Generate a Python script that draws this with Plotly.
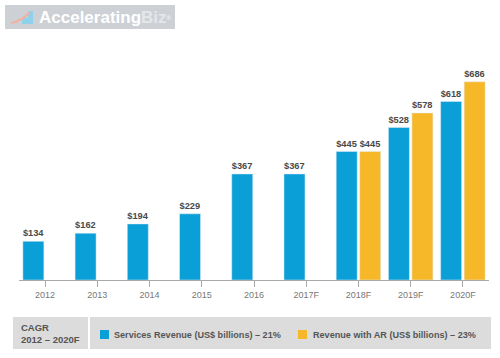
import plotly.graph_objects as go

years = ["2012", "2013", "2014", "2015", "2016", "2017F", "2018F", "2019F", "2020F"]
services = [134, 162, 194, 229, 367, 367, 445, 528, 618]
with_ar = [None, None, None, None, None, None, 445, 578, 686]
legend_services = "Services Revenue (US$ billions) – 21%"
legend_ar = "Revenue with AR (US$ billions) – 23%"
cagr_label = "CAGR<br>2012 – 2020F"

BLUE = "#0a9fd6"
YELLOW = "#f6b829"
W, H = 500, 358
L, R, T, B = 19, 11, 70, 78
PW, PH = W - L - R, H - T - B

def px(x):
    return (x - L) / PW

def py(y):
    return (H - B - y) / PH

FONT = "Liberation Sans, Arial, sans-serif"

fig = go.Figure()
fig.add_trace(go.Bar(x=years, y=services, marker_color=BLUE, name=legend_services,
                     texttemplate="<b>$%{y}</b>", textposition="outside", cliponaxis=False,
                     textfont=dict(size=10, color="#4a4a4a", family=FONT)))
fig.add_trace(go.Bar(x=years, y=with_ar, marker_color=YELLOW, name=legend_ar,
                     texttemplate="<b>$%{y}</b>", textposition="outside", cliponaxis=False,
                     textfont=dict(size=10, color="#4a4a4a", family=FONT)))

shapes = []
annotations = []
# logo
shapes.append(dict(type="rect", xref="paper", yref="paper", x0=px(5), x1=px(175), y0=py(29), y1=py(5),
                   fillcolor="#cdd1d6", line=dict(width=0), layer="below"))
# little stair icon
shapes.append(dict(type="path", xref="paper", yref="paper",
                   path=f"M {px(13)},{py(24)} L {px(22)},{py(24)} L {px(22)},{py(18)} L {px(28)},{py(18)} L {px(28)},{py(11)} L {px(33)},{py(11)} L {px(33)},{py(24)} Z",
                   fillcolor="#8fd0ea", line=dict(width=0)))
shapes.append(dict(type="path", xref="paper", yref="paper",
                   path=f"M {px(11)},{py(23)} Q {px(22)},{py(21)} {px(30)},{py(12)}",
                   line=dict(color="#f3b0a0", width=2)))
annotations.append(dict(xref="paper", yref="paper", x=px(37), y=py(17), xanchor="left", yanchor="middle",
                        text="<b>Accelerating</b><b><span style='color:#e4e7ea'>Biz</span></b><span style='font-size:8px'><sup>®</sup></span>",
                        showarrow=False, font=dict(size=17, color="white", family=FONT)))
# bottom legend boxes
shapes.append(dict(type="rect", xref="paper", yref="paper", x0=px(13), x1=px(88), y0=py(349), y1=py(317),
                   fillcolor="#dcdcdc", line=dict(width=0)))
shapes.append(dict(type="rect", xref="paper", yref="paper", x0=px(90), x1=px(491), y0=py(349), y1=py(317),
                   fillcolor="#dcdcdc", line=dict(width=0)))
shapes.append(dict(type="rect", xref="paper", yref="paper", x0=px(100), x1=px(109), y0=py(339), y1=py(330),
                   fillcolor=BLUE, line=dict(width=0)))
shapes.append(dict(type="rect", xref="paper", yref="paper", x0=px(298), x1=px(307), y0=py(339), y1=py(330),
                   fillcolor=YELLOW, line=dict(width=0)))
annotations.append(dict(xref="paper", yref="paper", x=px(19), y=py(333), xanchor="left", yanchor="middle",
                        text=f"<b>{cagr_label}</b>", align="left", showarrow=False,
                        font=dict(size=9.5, color="#555", family=FONT)))
annotations.append(dict(xref="paper", yref="paper", x=px(112), y=py(334.5), xanchor="left", yanchor="middle",
                        text=f"<b>{legend_services}</b>", showarrow=False,
                        font=dict(size=9.1, color="#555", family=FONT)))
annotations.append(dict(xref="paper", yref="paper", x=px(311), y=py(334.5), xanchor="left", yanchor="middle",
                        text=f"<b>{legend_ar}</b>", showarrow=False,
                        font=dict(size=9.1, color="#555", family=FONT)))

fig.update_layout(
    width=W, height=H, margin=dict(l=L, r=R, t=T, b=B, pad=0),
    paper_bgcolor="white", plot_bgcolor="white",
    barmode="group", bargap=0.10, bargroupgap=0.106,
    showlegend=False, shapes=shapes, annotations=annotations,
    font=dict(family=FONT),
)
fig.update_xaxes(type="category", range=[-0.5, 8.5], showline=True, linecolor="#aaaaaa", linewidth=1,
                 ticks="outside", ticklen=6, tickcolor="#aaaaaa", showgrid=False,
                 tickfont=dict(size=9, color="#777", family=FONT), fixedrange=True)
fig.update_yaxes(range=[0, PH / 0.289], visible=False, showgrid=False, zeroline=False)

fig.write_html("out.html", config={"displayModeBar": False},
               post_script="document.body.style.margin='0';document.body.style.overflow='hidden';")
